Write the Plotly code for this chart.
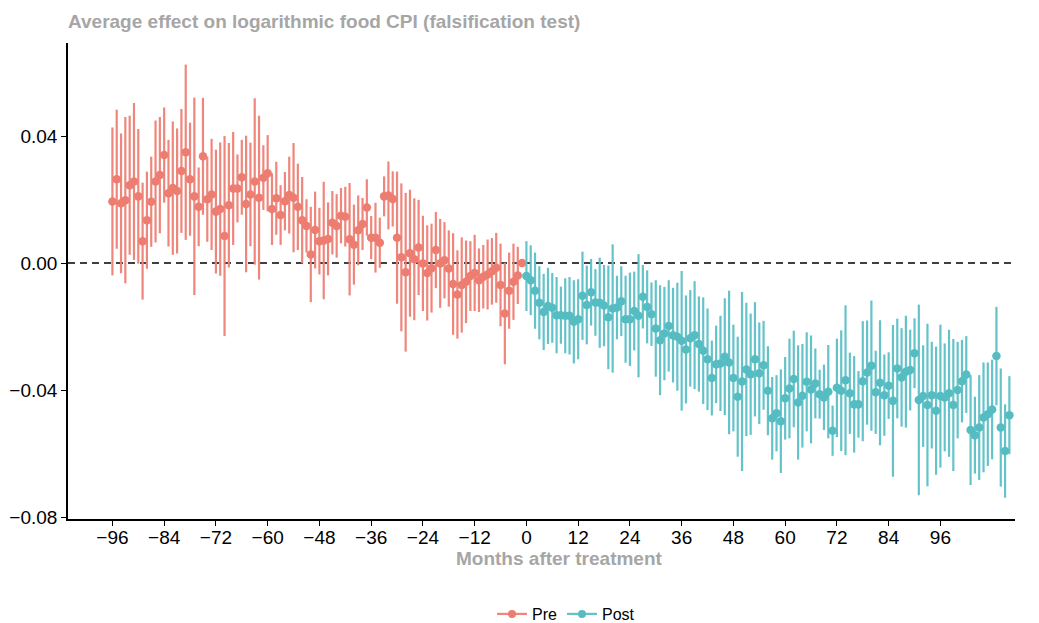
import plotly.graph_objects as go

# ---------------- data ----------------
months_pre = list(range(-96, 0))
est_pre = [
    0.0194, 0.0264, 0.0188, 0.0198, 0.0245, 0.0257, 0.0210, 0.0069, 0.0135, 0.0193,
    0.0257, 0.0277, 0.0340, 0.0220, 0.0236, 0.0227, 0.0290, 0.0349, 0.0264, 0.0210,
    0.0177, 0.0336, 0.0201, 0.0216, 0.0162, 0.0170, 0.0085, 0.0182, 0.0235, 0.0235,
    0.0270, 0.0186, 0.0216, 0.0257, 0.0206, 0.0269, 0.0283, 0.0170, 0.0204, 0.0151,
    0.0195, 0.0214, 0.0206, 0.0177, 0.0135, 0.0117, 0.0027, 0.0104, 0.0069, 0.0071,
    0.0076, 0.0127, 0.0117, 0.0149, 0.0146, 0.0075, 0.0058, 0.0103, 0.0123, 0.0175,
    0.0080, 0.0080, 0.0064, 0.0210, 0.0213, 0.0202, 0.0080, 0.0018, -0.0029, 0.0031,
    0.0012, 0.0049, -0.0001, -0.0031, -0.0016, 0.0041, -0.0001, 0.0009, -0.0017, -0.0066,
    -0.0099, -0.0069, -0.0059, -0.0041, -0.0031, -0.0054, -0.0043, -0.0036, -0.0026, -0.0015,
    -0.0069, -0.0159, -0.0087, -0.0059, -0.0039, 0.0000,
]
ci_pre = [
    0.0233, 0.0219, 0.0220, 0.0262, 0.0219, 0.0247, 0.0212, 0.0184, 0.0153, 0.0142,
    0.0192, 0.0183, 0.0150, 0.0168, 0.0210, 0.0197, 0.0195, 0.0276, 0.0178, 0.0311,
    0.0124, 0.0184, 0.0134, 0.0175, 0.0195, 0.0210, 0.0315, 0.0196, 0.0178, 0.0107,
    0.0118, 0.0215, 0.0163, 0.0262, 0.0258, 0.0102, 0.0120, 0.0113, 0.0115, 0.0094,
    0.0092, 0.0121, 0.0172, 0.0136, 0.0136, 0.0084, 0.0150, 0.0121, 0.0105, 0.0185,
    0.0115, 0.0100, 0.0100, 0.0087, 0.0094, 0.0177, 0.0126, 0.0110, 0.0082, 0.0089,
    0.0068, 0.0110, 0.0079, 0.0063, 0.0107, 0.0087, 0.0208, 0.0233, 0.0250, 0.0200,
    0.0192, 0.0150, 0.0150, 0.0150, 0.0140, 0.0120, 0.0140, 0.0120, 0.0120, 0.0160,
    0.0139, 0.0150, 0.0130, 0.0110, 0.0120, 0.0100, 0.0100, 0.0110, 0.0105, 0.0110,
    0.0130, 0.0160, 0.0120, 0.0120, 0.0090, 0.0000,
]

months_post = list(range(0, 113))
est_post = [
    -0.0041, -0.0054, -0.0087, -0.0125, -0.0154, -0.0135, -0.0141, -0.0164, -0.0164, -0.0166,
    -0.0166, -0.0185, -0.0177, -0.0103, -0.0132, -0.0092, -0.0124, -0.0125, -0.0134, -0.0171,
    -0.0143, -0.0140, -0.0120, -0.0177, -0.0177, -0.0151, -0.0166, -0.0106, -0.0138, -0.0161,
    -0.0206, -0.0243, -0.0222, -0.0198, -0.0227, -0.0232, -0.0245, -0.0272, -0.0237, -0.0227,
    -0.0255, -0.0276, -0.0303, -0.0362, -0.0319, -0.0316, -0.0295, -0.0313, -0.0362, -0.0421,
    -0.0373, -0.0335, -0.0350, -0.0303, -0.0347, -0.0322, -0.0402, -0.0489, -0.0473, -0.0498,
    -0.0426, -0.0395, -0.0365, -0.0439, -0.0418, -0.0374, -0.0398, -0.0379, -0.0413, -0.0423,
    -0.0405, -0.0528, -0.0393, -0.0402, -0.0369, -0.0410, -0.0445, -0.0445, -0.0372, -0.0345,
    -0.0323, -0.0407, -0.0377, -0.0416, -0.0386, -0.0434, -0.0332, -0.0360, -0.0342, -0.0337,
    -0.0284, -0.0431, -0.0419, -0.0447, -0.0416, -0.0465, -0.0419, -0.0423, -0.0410, -0.0447,
    -0.0400, -0.0372, -0.0351, -0.0526, -0.0542, -0.0518, -0.0486, -0.0476, -0.0461, -0.0293,
    -0.0518, -0.0592, -0.0479,
]
ci_post = [
    0.0110, 0.0110, 0.0120, 0.0115, 0.0120, 0.0120, 0.0110, 0.0120, 0.0090, 0.0118,
    0.0122, 0.0131, 0.0126, 0.0139, 0.0124, 0.0105, 0.0105, 0.0142, 0.0128, 0.0163,
    0.0202, 0.0100, 0.0110, 0.0137, 0.0147, 0.0124, 0.0194, 0.0100, 0.0115, 0.0100,
    0.0152, 0.0173, 0.0147, 0.0144, 0.0149, 0.0170, 0.0220, 0.0170, 0.0152, 0.0170,
    0.0150, 0.0168, 0.0160, 0.0118, 0.0122, 0.0150, 0.0184, 0.0226, 0.0168, 0.0189,
    0.0282, 0.0210, 0.0191, 0.0180, 0.0160, 0.0140, 0.0140, 0.0130, 0.0120, 0.0163,
    0.0130, 0.0157, 0.0152, 0.0180, 0.0163, 0.0156, 0.0170, 0.0110, 0.0077, 0.0103,
    0.0147, 0.0079, 0.0155, 0.0190, 0.0236, 0.0128, 0.0152, 0.0105, 0.0189, 0.0164,
    0.0205, 0.0131, 0.0197, 0.0128, 0.0105, 0.0239, 0.0157, 0.0155, 0.0176, 0.0127,
    0.0110, 0.0300, 0.0160, 0.0256, 0.0168, 0.0202, 0.0225, 0.0170, 0.0200, 0.0208,
    0.0152, 0.0130, 0.0121, 0.0173, 0.0121, 0.0165, 0.0173, 0.0163, 0.0157, 0.0155,
    0.0186, 0.0147, 0.0123,
]

x_ticks = list(range(-96, 97, 12))
x_ticklabels = [("\u2212" + str(-v)) if v < 0 else str(v) for v in x_ticks]
y_ticks = [-0.08, -0.04, 0.0, 0.04]
y_ticklabels = ["\u22120.08", "\u22120.04", "0.00", "0.04"]

title_text = "Average effect on logarithmic food CPI (falsification test)"
x_title = "Months after treatment"

RED_PT = "#EC7D70"
RED_LN = "rgba(238,128,116,0.95)"
TEAL_PT = "#55BCC2"
TEAL_LN = "rgba(92,192,198,0.95)"
GREY = "#A6A6A6"
FONT = "Liberation Sans, Arial, sans-serif"

# the page places the figure 8px from the top-left corner
W, H = 1031, 615
PLOT_W, PLOT_H = 947, 476

fig = go.Figure()


def add_series(x, y, ci, color, rgba, name):
    fig.add_trace(go.Scatter(
        x=x, y=y, mode="markers", name=name, showlegend=False,
        marker=dict(color=color, size=8.5, line=dict(width=0)),
        error_y=dict(type="data", array=ci, visible=True, thickness=2.2,
                     width=0, color=rgba),
    ))
    fig.add_trace(go.Scatter(
        x=[None], y=[None], mode="lines+markers", name=name, showlegend=True,
        line=dict(color=rgba, width=2.2),
        marker=dict(color=color, size=8),
    ))


add_series(months_pre, est_pre, ci_pre, RED_PT, RED_LN, "Pre")
add_series(months_post, est_post, ci_post, TEAL_PT, TEAL_LN, "Post")

fig.add_shape(type="line", xref="paper", yref="y", x0=0, x1=1, y0=0, y1=0,
              line=dict(color="black", width=1.6, dash="7px,5px"), layer="below")

# x-axis title (placed as in the reference, slightly right of panel centre)
fig.add_annotation(text="<b>" + x_title + "</b>", xref="paper", yref="paper",
                   x=(551 - 60) / PLOT_W, y=-(550 - 511) / PLOT_H,
                   xanchor="center", yanchor="middle", showarrow=False,
                   font=dict(size=19, color=GREY, family=FONT))

fig.update_layout(
    width=W, height=H,
    margin=dict(l=60, r=24, t=35, b=104, autoexpand=False),
    paper_bgcolor="white", plot_bgcolor="white",
    font=dict(family=FONT, color="black"),
    title=dict(text="<b>" + title_text + "</b>", x=60 / W, xanchor="left",
               y=1 - 13 / H, yanchor="middle",
               font=dict(size=19, color=GREY, family=FONT)),
    showlegend=True,
    legend=dict(orientation="h", x=(558 - 60) / PLOT_W, xanchor="center",
                yref="container", y=(H - 606) / H, yanchor="middle",
                font=dict(size=16, color="black", family=FONT),
                itemwidth=30, traceorder="normal", bgcolor="rgba(0,0,0,0)"),
)

fig.update_xaxes(
    range=[-106.3, 113.3], tickmode="array", tickvals=x_ticks, ticktext=x_ticklabels,
    automargin=False, ticklabelstandoff=-5,
    showgrid=False, zeroline=False, showline=True, linecolor="black", linewidth=1.5,
    ticks="outside", ticklen=5, tickwidth=1.3, tickcolor="black",
    tickfont=dict(size=19, color="black", family=FONT),
)
fig.update_yaxes(
    range=[-0.0806, 0.0693], tickmode="array", tickvals=y_ticks, ticktext=y_ticklabels,
    automargin=False,
    showgrid=False, zeroline=False, showline=True, linecolor="black", linewidth=1.5,
    ticks="outside", ticklen=5, tickwidth=1.3, tickcolor="black",
    tickfont=dict(size=19, color="black", family=FONT),
)

fig.write_html("out.html")
